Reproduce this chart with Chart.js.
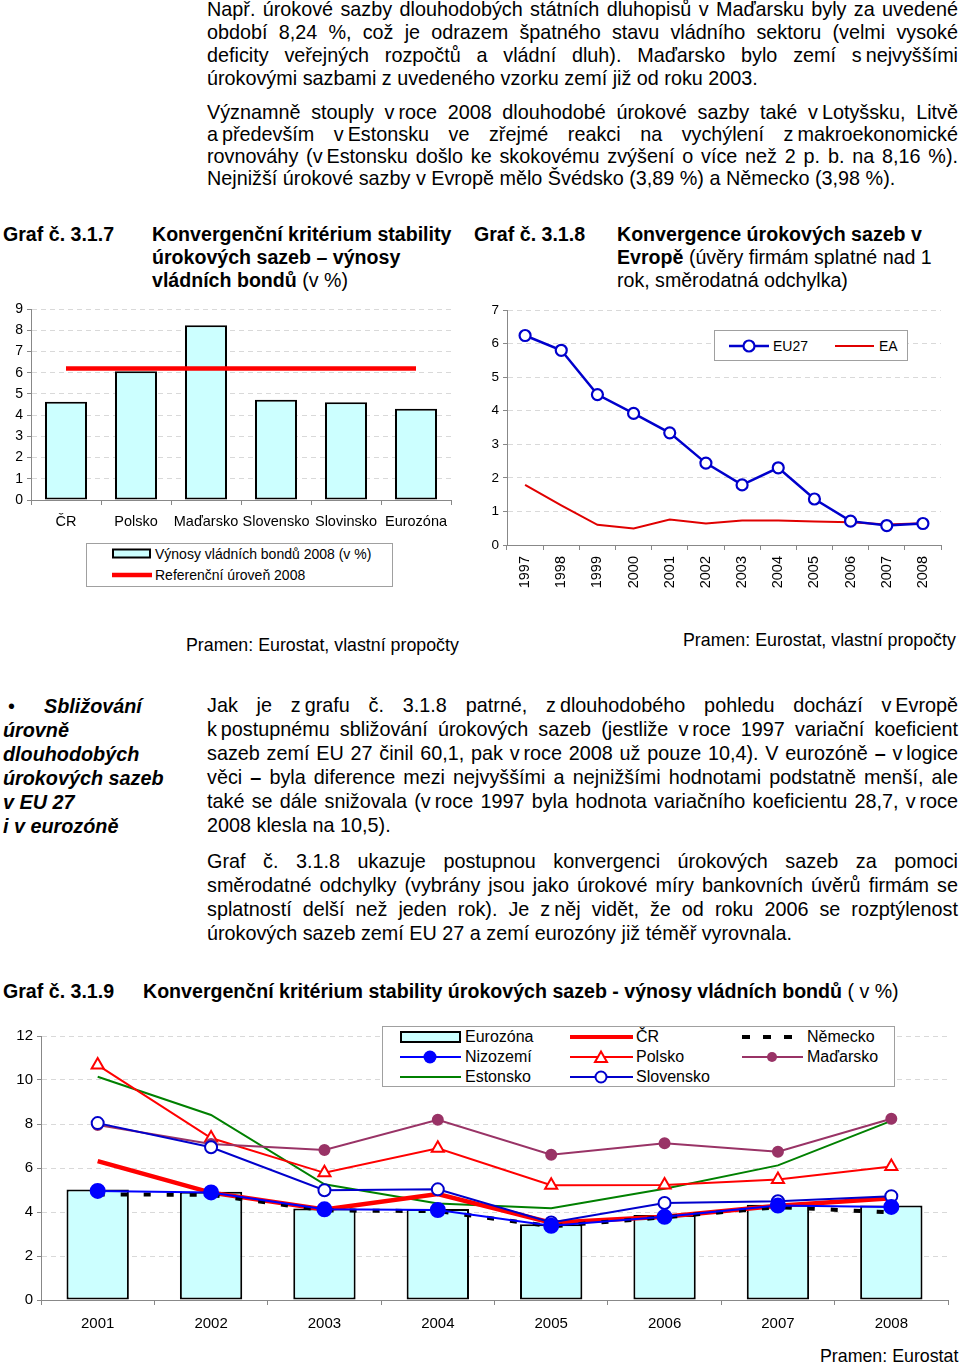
<!DOCTYPE html>
<html>
<head>
<meta charset="utf-8">
<script src="https://cdn.jsdelivr.net/npm/chart.js@4.4.0/dist/chart.umd.min.js"></script>
<style>
  body { margin: 0; background: #fff; }
  #page { position: relative; width: 960px; height: 1364px; overflow: hidden;
          font-family: "Liberation Sans", Arial, sans-serif; color: #000; }
  .abs { position: absolute; white-space: nowrap; }
  .para { position: absolute; left: 207px; width: 751px; font-size: 19.8px; }
  .para div { white-space: nowrap; height: inherit; }
  .para .j { text-align: justify; text-align-last: justify; white-space: normal; }
  .ttl { position: absolute; font-size: 19.6px; font-weight: bold; line-height: 23px; white-space: nowrap; }
  .ttl span.n { font-weight: normal; }
  canvas { position: absolute; }
  .lgbox { position: absolute; border: 1px solid #a0a0a0; box-sizing: border-box; background: #fff; }
  .lg { position: absolute; display: flex; align-items: center; white-space: nowrap; height: 20px; }
  .lg svg { display: block; margin-right: 3px; }
  .src { position: absolute; font-size: 17.8px; white-space: nowrap; }
</style>
</head>
<body>
<div id="page">

  <div class="para" style="top:-2px; line-height:23px;">
    <div class="j">Např. úrokové sazby dlouhodobých státních dluhopisů v Maďarsku byly za uvedené</div>
    <div class="j">období 8,24 %, což je odrazem špatného stavu vládního sektoru (velmi vysoké</div>
    <div class="j">deficity veřejných rozpočtů a vládní dluh). Maďarsko bylo zemí s&#8239;nejvyššími</div>
    <div>úrokovými sazbami z uvedeného vzorku zemí již od roku 2003.</div>
  </div>

  <div class="para" style="top:101px; line-height:22px;">
    <div class="j">Významně stouply v&#8239;roce 2008 dlouhodobé úrokové sazby také v&#8239;Lotyšsku, Litvě</div>
    <div class="j">a&#8239;především v&#8239;Estonsku ve zřejmé reakci na vychýlení z&#8239;makroekonomické</div>
    <div class="j">rovnováhy (v&#8239;Estonsku došlo ke skokovému zvýšení o více než 2 p. b. na 8,16 %).</div>
    <div>Nejnižší úrokové sazby v Evropě mělo Švédsko (3,89 %) a Německo (3,98 %).</div>
  </div>

  <div class="ttl" style="left:3px; top:223px;">Graf č. 3.1.7</div>
  <div class="ttl" style="left:152px; top:223px;">Konvergenční kritérium stability<br>úrokových sazeb – výnosy<br>vládních bondů<span class="n"> (v %)</span></div>
  <div class="ttl" style="left:474px; top:223px;">Graf č. 3.1.8</div>
  <div class="ttl" style="left:617px; top:223px;">Konvergence úrokových sazeb v<br>Evropě<span class="n"> (úvěry firmám splatné nad 1</span><br><span class="n">rok, směrodatná odchylka)</span></div>

  <canvas id="bondChart" width="460" height="240" style="left:0; top:295px; width:460px; height:240px;"></canvas>
  <div class="lgbox" style="left:86px; top:543px; width:307px; height:44px;"></div>
  <div class="lg" style="left:112px; top:544px; font-size:14px;">
    <svg width="40" height="12"><rect x="1" y="1.5" width="37" height="8" fill="#ccffff" stroke="#000" stroke-width="2"/></svg>Výnosy vládních bondů 2008 (v %)
  </div>
  <div class="lg" style="left:112px; top:565px; font-size:14px;">
    <svg width="40" height="12"><line x1="0" y1="6" x2="40" y2="6" stroke="#ff0000" stroke-width="4.5"/></svg>Referenční úroveň 2008
  </div>

  <canvas id="stdChart" width="490" height="300" style="left:470px; top:295px; width:490px; height:300px;"></canvas>
  <div class="lgbox" style="left:714px; top:330px; width:194px; height:31px;"></div>
  <div class="lg" style="left:729px; top:336px; font-size:14px;">
    <svg width="41" height="16"><line x1="0" y1="8" x2="40" y2="8" stroke="#0000cc" stroke-width="2.5"/><circle cx="20" cy="8" r="5.5" fill="#fff" stroke="#0000cc" stroke-width="2.2"/></svg>EU27
  </div>
  <div class="lg" style="left:835px; top:336px; font-size:14px;">
    <svg width="41" height="16"><line x1="0" y1="8" x2="39" y2="8" stroke="#e00000" stroke-width="2"/></svg>EA
  </div>

  <div class="src" style="left:186px; top:635px;">Pramen: Eurostat, vlastní propočty</div>
  <div class="src" style="left:683px; top:630px;">Pramen: Eurostat, vlastní propočty</div>

  <div class="abs" style="left:8px; top:694px; font-size:19.8px; line-height:24px;">•</div>
  <div class="abs" style="left:3px; top:694px; font-size:19.8px; line-height:24px; font-weight:bold; font-style:italic;">
    <span style="margin-left:41px;">Sbližování</span><br>úrovně<br>dlouhodobých<br>úrokových sazeb<br>v EU 27<br>i v eurozóně
  </div>

  <div class="para" style="top:693px; line-height:24px;">
    <div class="j">Jak je z&#8239;grafu č. 3.1.8 patrné, z&#8239;dlouhodobého pohledu dochází v&#8239;Evropě</div>
    <div class="j">k&#8239;postupnému sbližování úrokových sazeb (jestliže v&#8239;roce 1997 variační koeficient</div>
    <div class="j">sazeb zemí EU 27 činil 60,1, pak v&#8239;roce 2008 už pouze 10,4). V eurozóně <b>–</b> v&#8239;logice</div>
    <div class="j">věci <b>–</b> byla diference mezi nejvyššími a nejnižšími hodnotami podstatně menší, ale</div>
    <div class="j">také se dále snižovala (v&#8239;roce 1997 byla hodnota variačního koeficientu 28,7, v&#8239;roce</div>
    <div>2008 klesla na 10,5).</div>
  </div>

  <div class="para" style="top:849px; line-height:24px;">
    <div class="j">Graf č. 3.1.8 ukazuje postupnou konvergenci úrokových sazeb za pomoci</div>
    <div class="j">směrodatné odchylky (vybrány jsou jako úrokové míry bankovních úvěrů firmám se</div>
    <div class="j">splatností delší než jeden rok). Je z&#8239;něj vidět, že od roku 2006 se rozptýlenost</div>
    <div>úrokových sazeb zemí EU 27 a zemí eurozóny již téměř vyrovnala.</div>
  </div>

  <div class="ttl" style="left:3px; top:980px;">Graf č. 3.1.9</div>
  <div class="ttl" style="left:143px; top:980px;">Konvergenční kritérium stability úrokových sazeb - výnosy vládních bondů<span class="n"> ( v %)</span></div>

  <canvas id="yieldChart" width="960" height="325" style="left:0; top:1020px; width:960px; height:325px;"></canvas>
  <div class="lgbox" style="left:382px; top:1026px; width:513px; height:61px;"></div>
  <div class="lg" style="left:400px; top:1027px; font-size:16px;">
    <svg width="62" height="14"><rect x="1" y="2" width="59" height="10" fill="#ccffff" stroke="#000" stroke-width="2"/></svg>Eurozóna
  </div>
  <div class="lg" style="left:570px; top:1027px; font-size:16px;">
    <svg width="63" height="14"><line x1="0" y1="7" x2="63" y2="7" stroke="#ff0000" stroke-width="4"/></svg>ČR
  </div>
  <div class="lg" style="left:742px; top:1027px; font-size:16px;">
    <svg width="62" height="14"><line x1="0" y1="7" x2="55" y2="7" stroke="#000" stroke-width="4" stroke-dasharray="8,13"/></svg>Německo
  </div>
  <div class="lg" style="left:400px; top:1047px; font-size:16px;">
    <svg width="62" height="16"><line x1="0" y1="8" x2="61" y2="8" stroke="#0000ff" stroke-width="2"/><circle cx="30" cy="8" r="6.5" fill="#0000ff"/></svg>Nizozemí
  </div>
  <div class="lg" style="left:570px; top:1047px; font-size:16px;">
    <svg width="63" height="16"><line x1="0" y1="8" x2="63" y2="8" stroke="#ff0000" stroke-width="2"/><polygon points="31,2.5 37,13 25,13" fill="#fff" stroke="#ff0000" stroke-width="2"/></svg>Polsko
  </div>
  <div class="lg" style="left:742px; top:1047px; font-size:16px;">
    <svg width="62" height="16"><line x1="0" y1="8" x2="61" y2="8" stroke="#993366" stroke-width="2"/><circle cx="30" cy="8" r="5" fill="#993366"/></svg>Maďarsko
  </div>
  <div class="lg" style="left:400px; top:1067px; font-size:16px;">
    <svg width="62" height="16"><line x1="0" y1="8" x2="61" y2="8" stroke="#008000" stroke-width="2"/></svg>Estonsko
  </div>
  <div class="lg" style="left:570px; top:1067px; font-size:16px;">
    <svg width="63" height="16"><line x1="0" y1="8" x2="63" y2="8" stroke="#0000cc" stroke-width="2"/><circle cx="31" cy="8" r="5.5" fill="#fff" stroke="#0000cc" stroke-width="2"/></svg>Slovensko
  </div>

  <div class="src" style="left:820px; top:1346px;">Pramen: Eurostat</div>
</div>

<script>
// Graf 3.1.7
const bondCountries = ['ČR', 'Polsko', 'Maďarsko', 'Slovensko', 'Slovinsko', 'Eurozóna'];
const bondYields2008 = [4.63, 6.07, 8.24, 4.72, 4.61, 4.3];
const referenceLevel2008 = [6.2, 6.2, 6.2, 6.2, 6.2, 6.2];

// Graf 3.1.8
const stdYears = ['1997', '1998', '1999', '2000', '2001', '2002', '2003', '2004', '2005', '2006', '2007', '2008'];
const eu27StdDev = [6.24, 5.8, 4.48, 3.92, 3.34, 2.44, 1.79, 2.3, 1.37, 0.71, 0.58, 0.64];
const eaStdDev = [1.79, 1.18, 0.6, 0.49, 0.76, 0.64, 0.73, 0.73, 0.7, 0.68, 0.61, 0.65];

// Graf 3.1.9
const yieldYears = ['2001', '2002', '2003', '2004', '2005', '2006', '2007', '2008'];
const eurozona = [5.02, 4.92, 4.16, 4.14, 3.44, 3.86, 4.33, 4.3];
const cr = [6.31, 4.88, 4.12, 4.82, 3.51, 3.78, 4.28, 4.63];
const nemecko = [4.8, 4.78, 4.07, 4.04, 3.35, 3.76, 4.22, 3.98];
const nizozemi = [4.96, 4.89, 4.12, 4.09, 3.37, 3.78, 4.29, 4.23];
const polsko = [10.68, 7.36, 5.78, 6.9, 5.22, 5.23, 5.48, 6.07];
const madarsko = [7.95, 7.09, 6.82, 8.19, 6.6, 7.12, 6.74, 8.24];
const estonsko = [10.15, 8.41, 5.26, 4.39, 4.17, 5.06, 6.12, 8.14];
const slovensko = [8.04, 6.94, 4.99, 5.03, 3.52, 4.41, 4.49, 4.72];

Chart.defaults.font.family = '"Liberation Sans", Arial, sans-serif';
Chart.defaults.color = '#000';
Chart.defaults.animation = false;
Chart.defaults.responsive = false;
Chart.defaults.plugins.legend.display = false;
Chart.defaults.plugins.tooltip.enabled = false;

const barFill = '#ccffff';

const makeX = (axisHeight, fontSize, pad, rot) => ({
    offset: true,
    grid: { offset: true, drawOnChartArea: false, drawTicks: true, tickLength: 5, tickColor: '#888' },
    border: { color: '#888', width: 1 },
    ticks: { font: { size: fontSize }, padding: pad, autoSkip: false, minRotation: rot || 0, maxRotation: rot || 0 },
    afterFit: s => { s.height = axisHeight; }
});

const makeY = (max, step, axisWidth, fontSize) => ({
    min: 0,
    max: max,
    ticks: { stepSize: step, font: { size: fontSize }, padding: 4 },
    grid: { color: '#d9d9d9', lineWidth: 1, tickLength: 4, tickColor: '#888', tickBorderDash: [] },
    border: { color: '#888', width: 1, dash: [5, 4] },
    afterFit: s => { s.width = axisWidth; }
});

new Chart(document.getElementById('bondChart'), {
    type: 'bar',
    data: {
        labels: bondCountries,
        datasets: [
            {
                type: 'line',
                label: 'Referenční úroveň 2008',
                data: referenceLevel2008,
                borderColor: '#ff0000',
                borderWidth: 4.5,
                pointRadius: 0,
                tension: 0,
                order: 0
            },
            {
                label: 'Výnosy vládních bondů 2008 (v %)',
                data: bondYields2008,
                backgroundColor: barFill,
                borderColor: '#000',
                borderWidth: 2,
                borderSkipped: false,
                categoryPercentage: 1,
                barPercentage: 0.6,
                order: 1
            }
        ]
    },
    options: {
        layout: { padding: { top: 14, right: 9, left: 0, bottom: 0 } },
        scales: {
            x: makeX(35, 14.5, 8),
            y: makeY(9, 1, 31, 14)
        }
    }
});

new Chart(document.getElementById('stdChart'), {
    type: 'line',
    data: {
        labels: stdYears,
        datasets: [
            {
                label: 'EU27',
                data: eu27StdDev,
                borderColor: '#0000cc',
                borderWidth: 2.5,
                pointRadius: 5.5,
                pointBorderWidth: 2.2,
                pointBackgroundColor: '#fff',
                pointBorderColor: '#0000cc',
                tension: 0,
                order: 0
            },
            {
                label: 'EA',
                data: eaStdDev,
                borderColor: '#e00000',
                borderWidth: 2,
                pointRadius: 0,
                tension: 0,
                order: 1
            }
        ]
    },
    options: {
        layout: { padding: { top: 15, right: 19, left: 0, bottom: 0 } },
        scales: {
            x: makeX(50, 14.5, 6, 90),
            y: makeY(7, 1, 37, 13.5)
        }
    }
});

const lineDs = (label, data, color, width, extra) => Object.assign({
    type: 'line', label, data,
    borderColor: color, borderWidth: width,
    pointRadius: 0, tension: 0
}, extra || {});

new Chart(document.getElementById('yieldChart'), {
    type: 'bar',
    data: {
        labels: yieldYears,
        datasets: [
            {
                label: 'Eurozóna',
                data: eurozona,
                backgroundColor: barFill,
                borderColor: '#000',
                borderWidth: 2,
                borderSkipped: false,
                categoryPercentage: 1,
                barPercentage: 0.55,
                order: 10
            },
            lineDs('Estonsko', estonsko, '#008000', 2, { order: 7 }),
            lineDs('Polsko', polsko, '#ff0000', 2, {
                order: 6, pointStyle: 'triangle', pointRadius: 7,
                pointBackgroundColor: '#fff', pointBorderColor: '#ff0000', pointBorderWidth: 2
            }),
            lineDs('Maďarsko', madarsko, '#993366', 2, {
                order: 5, pointRadius: 5, pointBackgroundColor: '#993366', pointBorderColor: '#993366'
            }),
            lineDs('ČR', cr, '#ff0000', 4.5, { order: 4 }),
            lineDs('Slovensko', slovensko, '#0000cc', 2, {
                order: 3, pointRadius: 6, pointBackgroundColor: '#fff',
                pointBorderColor: '#0000cc', pointBorderWidth: 2
            }),
            lineDs('Německo', nemecko, '#000', 4, { order: 2, borderDash: [7, 16] }),
            lineDs('Nizozemí', nizozemi, '#0000ff', 2, {
                order: 1, pointRadius: 7, pointBackgroundColor: '#0000ff', pointBorderColor: '#0000ff'
            })
        ]
    },
    options: {
        layout: { padding: { top: 16, right: 12, left: 0, bottom: 0 } },
        scales: {
            x: makeX(45, 15, 10),
            y: makeY(12, 2, 41, 15)
        }
    }
});
</script>
</body>
</html>
